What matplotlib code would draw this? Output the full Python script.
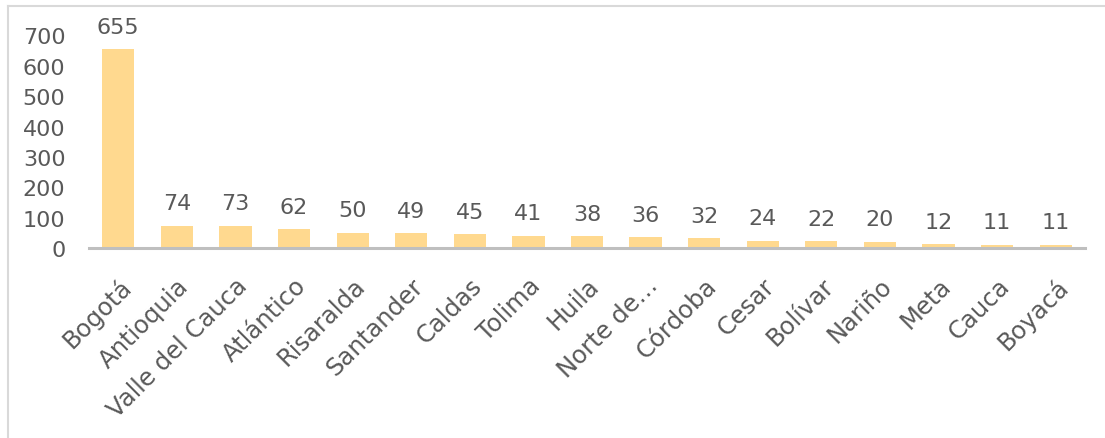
import matplotlib
matplotlib.use("Agg")
import matplotlib.pyplot as plt

departamentos = ["Bogotá", "Antioquia", "Valle del Cauca", "Atlántico", "Risaralda",
                 "Santander", "Caldas", "Tolima", "Huila", "Norte de…", "Córdoba",
                 "Cesar", "Bolívar", "Nariño", "Meta", "Cauca", "Boyacá"]
casos = [655, 74, 73, 62, 50, 49, 45, 41, 38, 36, 32, 24, 22, 20, 12, 11, 11]
yticks = [0, 100, 200, 300, 400, 500, 600, 700]

BAR = "#FFD98F"
TXT = "#595959"

plt.rcParams["font.family"] = ["DejaVu Sans"]

fig = plt.figure(figsize=(11.05, 4.39), dpi=100)
fig.patch.set_facecolor("white")

# light frame on top and left, as in the cropped source
fig.add_artist(plt.Line2D([8 / 1105, 1.0], [1 - 7 / 439, 1 - 7 / 439],
                          color="#d9d9d9", linewidth=1.5, transform=fig.transFigure))
fig.add_artist(plt.Line2D([8 / 1105, 8 / 1105], [0, 1 - 7 / 439],
                          color="#d9d9d9", linewidth=1.5, transform=fig.transFigure))

ax = fig.add_axes([89 / 1105, 1 - 249 / 439, 996 / 1105, (249 - 36.5) / 439])
x = list(range(len(casos)))
ax.bar(x, casos, width=0.55, color=BAR, zorder=2)

for xi, v in zip(x, casos):
    ax.annotate(str(v), (xi, v), xytext=(0, 9), textcoords="offset points",
                ha="center", va="bottom", fontsize=16, color=TXT,
                annotation_clip=False)

ax.set_xlim(-0.5, len(casos) - 0.5)
ax.set_ylim(0, 700)
ax.set_yticks(yticks)
ax.set_yticklabels([str(t) for t in yticks], fontsize=16, color=TXT)
ax.set_xticks(x)
ax.set_xticklabels(departamentos, rotation=45, ha="right", rotation_mode="anchor",
                   fontsize=17.5, color=TXT)
ax.tick_params(axis="both", length=0)
ax.tick_params(axis="y", pad=17)
ax.tick_params(axis="x", pad=18)

for s in ["top", "right", "left"]:
    ax.spines[s].set_visible(False)
ax.spines["bottom"].set_color("#bfbfbf")
ax.spines["bottom"].set_linewidth(2.2)

fig.savefig("out.png", dpi=100, facecolor="white")
